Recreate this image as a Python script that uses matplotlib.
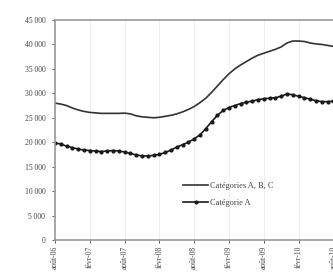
import matplotlib
matplotlib.use("Agg")
import matplotlib.pyplot as plt
from matplotlib.ticker import FuncFormatter

tick_labels = ["août-06", "févr-07", "août-07", "févr-08", "août-08",
               "févr-09", "août-09", "févr-10", "août-10"]

abc = [28000, 27800, 27500, 27000, 26600, 26300, 26100, 26000, 25900, 25900,
       25900, 25900, 25950, 25800, 25400, 25200, 25100, 25000, 25100, 25300,
       25500, 25800, 26200, 26700, 27300, 28100, 29000, 30200, 31500, 32800,
       34000, 35000, 35800, 36500, 37200, 37800, 38200, 38600, 39000, 39500,
       40300, 40700, 40700, 40600, 40300, 40100, 40000, 39800, 39600, 39500, 39500]

cat_a = [19900, 19600, 19200, 18900, 18600, 18400, 18300, 18200, 18100, 18200,
         18300, 18200, 18000, 17700, 17400, 17200, 17200, 17300, 17500, 17900,
         18400, 19000, 19500, 20000, 20700, 21500, 22800, 24200, 25500, 26500,
         27100, 27500, 27900, 28200, 28400, 28700, 28900, 29000, 29100, 29400,
         29900, 29700, 29400, 29100, 28800, 28500, 28300, 28300, 28400, 28300, 28300]

months = list(range(len(abc)))
tick_pos = [6 * i for i in range(len(tick_labels))]

plt.rcParams['font.family'] = ['Liberation Serif', 'DejaVu Serif']

W, H = 333, 275
fig = plt.figure(figsize=(W / 100, H / 100), dpi=100)
left, top, bottom = 55, 20, 240
px_per_month = 5.8
xmax = 52
width_px = xmax * px_per_month
ax = fig.add_axes([left / W, 1 - bottom / H, width_px / W, (bottom - top) / H])

ax.plot(months, abc, color='#333333', lw=1.2, label='Catégories A, B, C')
ax.plot(months, cat_a, color='#1a1a1a', lw=1.2, marker='o', ms=2.0,
        label='Catégorie A')

ax.set_xlim(0, xmax)
ax.set_ylim(0, 45000)
ax.set_yticks(range(0, 45001, 5000))
ax.yaxis.set_major_formatter(FuncFormatter(lambda v, p: f"{int(v):,}".replace(",", " ")))
ax.set_xticks(tick_pos)
ax.set_xticklabels(tick_labels, rotation=90, va='top')
ax.tick_params(axis='both', labelsize=5.5, colors='#444444', length=2, width=0.6)
ax.tick_params(axis='x', pad=2)
ax.tick_params(axis='y', pad=5)
ax.xaxis.grid(True, color='#eeeeee', lw=0.6)
for s in ['left', 'bottom', 'top']:
    ax.spines[s].set_color('#999999')
    ax.spines[s].set_linewidth(1.2)
ax.spines['right'].set_visible(False)

leg = ax.legend(loc='upper left', bbox_to_anchor=((180 - left) / width_px, (bottom - 179) / (bottom - top)),
                frameon=False, fontsize=6, handlelength=3.0, handletextpad=0.2,
                labelspacing=1.0, borderaxespad=0)
for t in leg.get_texts():
    t.set_color('#444444')

fig.savefig("out.png", dpi=100)
